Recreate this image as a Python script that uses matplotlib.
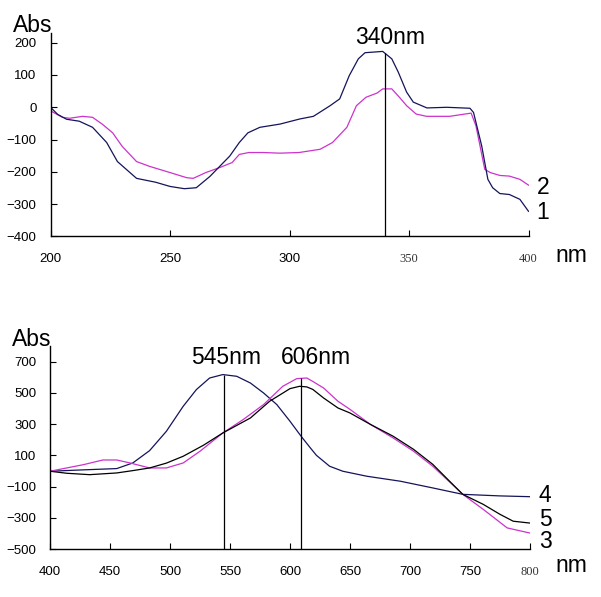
import numpy as np
import matplotlib
matplotlib.use("Agg")
import matplotlib.pyplot as plt

plt.rcParams['font.family'] = ['Liberation Sans', 'DejaVu Sans']

W, H = 601, 597

# top panel (200-400 nm)
c1_wl = [200, 203, 206.7, 212, 217.6, 223.5, 228, 236, 244, 250, 256, 261, 266.7, 275, 279,
         282.6, 287.6, 296, 304.4, 310, 317, 321, 325, 328.8, 331.6, 339, 342.8, 345.5, 349,
         351.8, 357.5, 365.8, 375.5, 377, 380.4, 383, 385, 388, 392, 396.4, 400]
c1_abs = [0, -22, -37, -43, -62, -109, -168, -220, -232, -245, -252, -249, -214, -151, -109,
          -79, -62, -52, -36, -28, 5, 26, 98, 150, 169, 173, 150, 109, 47,
          16, -2, 0, -3, -16, -119, -223, -249, -267, -270, -285, -322]
c2_wl = [200, 205, 208, 213.4, 217.6, 221.8, 226, 230, 236, 241.5, 250, 257, 259.7, 265, 271,
         276, 279, 283, 289, 296, 304, 312.8, 318, 324, 328, 332, 336.6, 339, 342.8, 346,
         349, 353, 357.4, 367, 376, 378, 381.7, 384, 388, 392, 396.4, 400]
c2_abs = [-11, -31, -34, -28, -31, -53, -79, -121, -168, -183, -202, -218, -220, -202, -186,
          -171, -146, -140, -140, -142, -140, -130, -109, -62, 5, 31, 44, 57, 57, 31,
          5, -21, -28, -28, -18, -57, -192, -202, -211, -213, -223, -241]

# bottom panel (400-800 nm)
c4_wl = [400, 425, 455.6, 469, 483, 497, 511, 522, 533, 544, 555.6, 567, 578, 589, 600,
         608, 611, 617, 622, 633, 644, 664, 692, 719, 744, 775, 800]
c4_abs = [-2, 6, 15, 51, 130, 254, 414, 521, 595, 617, 606, 563, 499, 425, 318,
          235, 205, 147, 100, 30, -2, -34, -66, -109, -150, -160, -165]
c5_wl = [400, 414, 433, 455.6, 469, 483, 497, 511, 528, 544, 567, 583, 600, 608, 614, 619,
         628, 640, 650, 667, 686, 703, 719, 733, 744, 761, 775, 786, 800]
c5_abs = [-2, -15, -24, -13, 2, 19, 50, 94, 165, 243, 339, 446, 527, 542, 538, 522,
          467, 403, 371, 298, 222, 138, 42, -66, -150, -214, -278, -322, -334]
c3_wl = [400, 427.8, 444, 455.6, 466.7, 483, 497, 511, 525, 544, 561, 578, 594, 605.6,
         614, 619, 628, 640, 650, 667, 686, 703, 719, 744, 761, 781, 800]
c3_abs = [-2, 40, 70, 70, 51, 19, 19, 51, 126, 243, 329, 425, 542, 591,
          595, 573, 531, 446, 394, 298, 211, 126, 30, -150, -246, -365, -398]

top_ticks_x = [200, 250, 300, 350, 400]
top_ticks_y = [-400, -300, -200, -100, 0, 100, 200]
bot_ticks_x = [400, 450, 500, 550, 600, 650, 700, 750, 800]
bot_ticks_y = [-500, -300, -100, 100, 300, 500, 700]

navy = '#14145a'
magenta = '#cc33cc'

fig = plt.figure(figsize=(W / 100, H / 100), dpi=100)


def px(x0, y0, x1, y1):
    return [x0 / W, 1 - y1 / H, (x1 - x0) / W, (y1 - y0) / H]


def style(ax, xt, yt, serif_last):
    for s in ['top', 'right']:
        ax.spines[s].set_visible(False)
    for s in ['left', 'bottom']:
        ax.spines[s].set_linewidth(1.0)
    ax.set_xticks(xt)
    ax.set_yticks(yt)
    ax.tick_params(axis='x', direction='in', length=4, pad=12, labelsize=9.5)
    ax.tick_params(axis='y', direction='in', length=4, pad=10, labelsize=9.5)
    for i, lab in enumerate(ax.get_xticklabels()):
        if i >= len(xt) - serif_last:
            lab.set_family('Liberation Serif')
            lab.set_fontsize(9)
            lab.set_color('#333333')


# top
ax1 = fig.add_axes(px(50.5, 33, 528.5, 236.5))
ax1.plot(c2_wl, c2_abs, color=magenta, lw=0.9)
ax1.plot(c1_wl, c1_abs, color=navy, lw=0.9)
ax1.set_xlim(200, 400)
ax1.set_ylim(-400, 230)
peak1 = 340
ax1.vlines(peak1, -400, np.interp(peak1, c1_wl, c1_abs), color='black', lw=0.9)
style(ax1, top_ticks_x, top_ticks_y, 2)

# bottom
ax2 = fig.add_axes(px(50, 346, 530, 549))
ax2.plot(c4_wl, c4_abs, color=navy, lw=0.9)
ax2.plot(c3_wl, c3_abs, color=magenta, lw=0.9)
ax2.plot(c5_wl, c5_abs, color='black', lw=0.9)
ax2.set_xlim(400, 800)
ax2.set_ylim(-500, 800)
peak_pos = [545, 609]
ax2.vlines(peak_pos[0], -500, np.interp(peak_pos[0], c4_wl, c4_abs), color='black', lw=0.9)
ax2.vlines(peak_pos[1], -500, np.interp(peak_pos[1], c3_wl, c3_abs), color='black', lw=0.9)
style(ax2, bot_ticks_x, bot_ticks_y, 1)


def t(x, y, s, size=16.5):
    fig.text(x / W, 1 - y / H, s, ha='center', va='center', fontsize=size)


t(33, 26, 'Abs')
t(390, 37, '340nm')
t(543, 188, '2')
t(543, 212, '1')
t(571, 256, 'nm')

t(32, 340, 'Abs')
t(226, 357, '545nm')
t(316, 357, '606nm')
t(545, 495, '4')
t(545, 520, '5')
t(545, 541, '3')
t(571, 566, 'nm')

fig.savefig('out.png', dpi=100)
